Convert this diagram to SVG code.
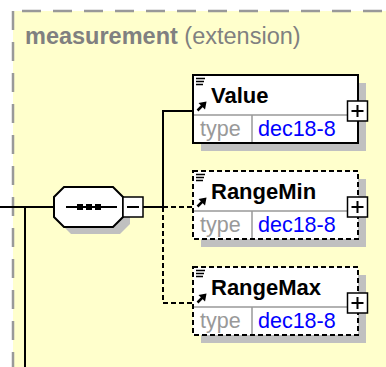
<svg xmlns="http://www.w3.org/2000/svg" width="386" height="367" viewBox="0 0 386 367">
<style>
.t{font-family:"Liberation Sans",Arial,sans-serif}
.box{fill:#fff;stroke:#000;stroke-width:2}
.dbox{fill:#fff;stroke:#000;stroke-width:2;stroke-dasharray:5,3}
.sh{fill:#c0c0c0}
.div{stroke:#999;stroke-width:1.5;fill:none}
.name{font-family:"Liberation Sans",Arial,sans-serif;font-weight:bold;font-size:22px;fill:#000}
.lbl{font-family:"Liberation Sans",Arial,sans-serif;font-size:21.5px;fill:#999}
.val{font-family:"Liberation Sans",Arial,sans-serif;font-size:21.5px;fill:#0000ff}
.ln{stroke:#000;stroke-width:2;fill:none}
.dln{stroke:#000;stroke-width:2;fill:none;stroke-dasharray:5,3}
.pm{fill:#fff;stroke:#000;stroke-width:1.5}
</style>
<defs>
<g id="icons">
<path d="M3,3.5h9M3,6.5h8M3,9.5h7" stroke="#000" stroke-width="1.5" fill="none"/>
<path d="M4.5,35.5L10,30" stroke="#000" stroke-width="2.5"/>
<path d="M13.5,26.5L5.5,28L12,34.5Z" fill="#000"/>
</g>
<g id="plus">
<rect x="-10" y="-10" width="20" height="20" class="pm"/>
<path d="M-6,0h12M0,-6v12" stroke="#000" stroke-width="2"/>
</g>
</defs>
<g id="background">
<rect x="13" y="11" width="373" height="356" fill="#ffffcc"/>
<path d="M13,11V367" stroke="#999" stroke-width="2.5" stroke-dasharray="19,12"/>
<path d="M22,11H386" stroke="#999" stroke-width="2.5" stroke-dasharray="19,12"/>
<text x="25" y="44" class="t" font-size="23.5" fill="#808080"><tspan font-weight="bold">measurement</tspan> (extension)</text>
</g>
<g id="connectors">
<path class="ln" d="M0,207H54M25,207V367"/>
<path class="ln" d="M143,207H163V111H193"/>
<path class="dln" d="M163,207H193M163,207V303H193"/>
</g>
<g id="sequence">
<path class="sh" d="M71,194H120L130,204V224L120,234H71L61,224V204Z"/>
<path d="M64,187H113L123,197V217L113,227H64L54,217V197Z" fill="#fff" stroke="#000" stroke-width="2"/>
<path d="M66,207H117" stroke="#000" stroke-width="2"/>
<rect x="77" y="204" width="6" height="6"/>
<rect x="86" y="204" width="6" height="6"/>
<rect x="95" y="204" width="6" height="6"/>
<rect x="123" y="197" width="20" height="20" class="pm"/>
<path d="M127,207h12" stroke="#000" stroke-width="2"/>
</g>
<g id="Value">
<rect x="201" y="83" width="165" height="68" class="sh"/>
<rect x="193" y="75" width="165" height="68" class="box"/>
<path class="div" d="M194,115H357M252,115V142"/>
<use href="#icons" x="193" y="75"/>
<text x="211" y="103" class="name">Value</text>
<text x="200" y="136" class="lbl">type</text>
<text x="258" y="136" class="val">dec18-8</text>
<use href="#plus" x="357.5" y="111"/>
</g>
<g id="RangeMin">
<rect x="201" y="179" width="165" height="68" class="sh"/>
<rect x="193" y="171" width="165" height="68" class="dbox"/>
<path class="div" d="M194,211H357M252,211V238"/>
<use href="#icons" x="193" y="171"/>
<text x="211" y="199" class="name">RangeMin</text>
<text x="200" y="232" class="lbl">type</text>
<text x="258" y="232" class="val">dec18-8</text>
<use href="#plus" x="357.5" y="207"/>
</g>
<g id="RangeMax">
<rect x="201" y="275" width="165" height="68" class="sh"/>
<rect x="193" y="267" width="165" height="68" class="dbox"/>
<path class="div" d="M194,307H357M252,307V334"/>
<use href="#icons" x="193" y="267"/>
<text x="211" y="295" class="name">RangeMax</text>
<text x="200" y="328" class="lbl">type</text>
<text x="258" y="328" class="val">dec18-8</text>
<use href="#plus" x="357.5" y="303"/>
</g>
</svg>
